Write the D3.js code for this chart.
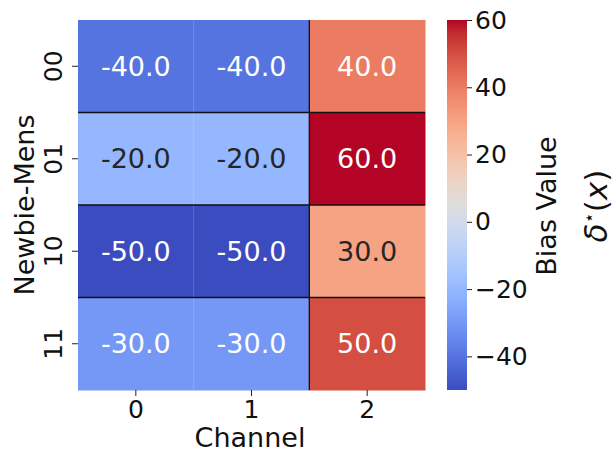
<!DOCTYPE html>
<html><head><meta charset="utf-8">
<script src="https://cdn.jsdelivr.net/npm/d3@7"></script>
<style>body{margin:0;background:#fff}svg{display:block}text{font-family:"DejaVu Sans",sans-serif}</style>
</head><body><svg id="c" width="614" height="452"></svg>
<script>
const rows = ["00","01","10","11"];
const cols = ["0","1","2"];
const values = [
  [-40,-40,40],
  [-20,-20,60],
  [-50,-50,30],
  [-30,-30,50]
];
const cbTicks = [-40,-20,0,20,40,60];
const vmin = -50, vmax = 60;
const coolwarm = [[59,76,192],[68,90,204],[77,104,215],[87,117,225],[98,130,234],[108,142,241],[119,154,247],[130,165,251],[141,176,254],[152,185,255],[163,194,255],[174,201,253],[184,208,249],[194,213,244],[204,217,238],[213,219,230],[221,221,221],[229,216,209],[236,211,197],[241,204,184],[245,196,172],[247,187,159],[247,177,147],[247,166,134],[244,154,123],[241,141,111],[236,127,99],[229,112,89],[222,96,77],[213,80,66],[203,62,56],[192,40,47],[180,4,38]];

const svg = d3.select("#c");
const L = 78, R = 425, T = 20, B = 390;
const x = d3.scaleBand().domain(cols).range([L, R]);
const y = d3.scaleBand().domain(rows).range([T, B]);
const n = coolwarm.length - 1;
const color = d3.scaleLinear()
  .domain(coolwarm.map((c,i)=> vmin + (vmax - vmin) * i / n))
  .range(coolwarm.map(c=>`rgb(${c[0]},${c[1]},${c[2]})`))
  .clamp(true);

function lum(c){
  const rgb = d3.rgb(c);
  const f = v => { v/=255; return v <= 0.03928 ? v/12.92 : Math.pow((v+0.055)/1.055, 2.4); };
  return 0.2126*f(rgb.r)+0.7152*f(rgb.g)+0.0722*f(rgb.b);
}

const cells = [];
rows.forEach((r,i)=>cols.forEach((c,j)=>cells.push({r,c,v:values[i][j]})));

const g = svg.append("g");
g.selectAll("rect").data(cells).join("rect")
  .attr("x", d=>x(d.c)).attr("y", d=>y(d.r))
  .attr("width", x.bandwidth()+0.5).attr("height", y.bandwidth()+0.5)
  .attr("fill", d=>color(d.v));

// faint seam between col 0 and col 1
g.append("line").attr("x1", x("1")).attr("x2", x("1")).attr("y1", T).attr("y2", B)
  .attr("stroke", "#fff").attr("stroke-opacity", 0.18).attr("stroke-width", 1);

// separators
rows.slice(1).forEach(r=>{
  g.append("line").attr("x1", L).attr("x2", R).attr("y1", y(r)).attr("y2", y(r))
    .attr("stroke", "#111").attr("stroke-width", 1.3);
});
g.append("line").attr("x1", x("2")).attr("x2", x("2")).attr("y1", T).attr("y2", B)
  .attr("stroke", "#111").attr("stroke-width", 1.3);

g.selectAll("text.ann").data(cells).join("text").attr("class","ann")
  .attr("x", d=>x(d.c)+x.bandwidth()/2).attr("y", d=>y(d.r)+y.bandwidth()/2)
  .attr("text-anchor","middle").attr("dominant-baseline","central")
  .attr("font-size", 27)
  .attr("fill", d=> lum(color(d.v)) > 0.408 ? "#262626" : "#ffffff")
  .text(d=>d.v.toFixed(1));

// x axis
const xa = svg.append("g").attr("transform", `translate(0,${B})`)
  .call(d3.axisBottom(x).tickSize(6).tickPadding(4));
xa.select(".domain").remove();
xa.selectAll("line").attr("stroke","#222").attr("stroke-width",1);
xa.selectAll("text").attr("font-size",25).attr("fill","#111").attr("font-family","DejaVu Sans");

// y axis
const ya = svg.append("g").attr("transform", `translate(${L},0)`)
  .call(d3.axisLeft(y).tickSize(6).tickPadding(10));
ya.select(".domain").remove();
ya.selectAll("line").attr("stroke","#222").attr("stroke-width",1);
ya.selectAll("text").attr("font-size",25).attr("fill","#111").attr("font-family","DejaVu Sans")
  .attr("x", null).attr("dy", null)
  .attr("text-anchor","middle")
  .attr("transform","translate(-16,0) rotate(-90)")
  .attr("dominant-baseline","auto")
  .attr("y", 0);

svg.append("text").attr("x", 250).attr("y", 447).attr("text-anchor","middle")
  .attr("font-size",27).attr("fill","#111").text("Channel");
svg.append("text").attr("transform","translate(34,205) rotate(-90)").attr("text-anchor","middle")
  .attr("font-size",27).attr("fill","#111").text("Newbie-Mens");

// colorbar
const cbx = 447, cbw = 20;
const grad = svg.append("defs").append("linearGradient").attr("id","cw")
  .attr("x1",0).attr("y1",1).attr("x2",0).attr("y2",0);
coolwarm.forEach((c,i)=>grad.append("stop").attr("offset", i/n).attr("stop-color", `rgb(${c[0]},${c[1]},${c[2]})`));
svg.append("rect").attr("x", cbx).attr("y", T).attr("width", cbw).attr("height", B-T).attr("fill","url(#cw)");
const cy = d3.scaleLinear().domain([vmin, vmax]).range([B, T]);
const ca = svg.append("g").attr("transform", `translate(${cbx+cbw},0)`)
  .call(d3.axisRight(cy).tickValues(cbTicks).tickSize(5).tickPadding(3)
    .tickFormat(v => (v<0 ? "\u2212" + Math.abs(v) : String(v))));
ca.select(".domain").remove();
ca.selectAll("line").attr("stroke","#222");
ca.selectAll("text").attr("font-size",25).attr("fill","#111").attr("font-family","DejaVu Sans");

svg.append("text").attr("transform","translate(556,206) rotate(-90)").attr("text-anchor","middle")
  .attr("font-size",27).attr("fill","#111").text("Bias Value");
const dl = svg.append("text").attr("transform","translate(607,206) rotate(-90)").attr("text-anchor","middle")
  .attr("font-size",31).attr("fill","#111").attr("font-family","DejaVu Serif");
dl.append("tspan").attr("font-style","italic").text("δ");
dl.append("tspan").attr("font-size",18).attr("dy",-12).text("⋆");
dl.append("tspan").attr("dy",12).text("(");
dl.append("tspan").attr("font-style","italic").text("x");
dl.append("tspan").text(")");
</script></body></html>
